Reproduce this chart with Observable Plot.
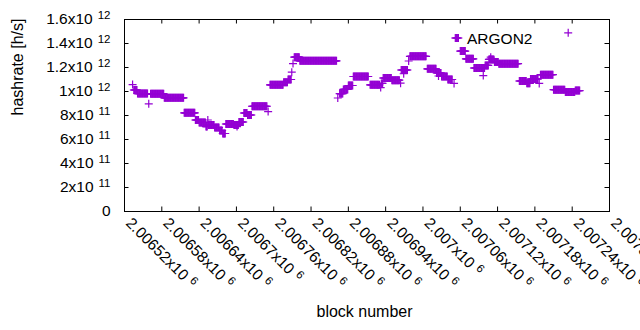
<!DOCTYPE html>
<html><head><meta charset="utf-8">
<script src="https://cdn.jsdelivr.net/npm/d3@7"></script>
<script src="https://cdn.jsdelivr.net/npm/@observablehq/plot@0.6"></script>
<style>
html,body{margin:0;padding:0;background:#fff;}
</style>
</head><body><div id="chart"></div>
<script>
// Plateaus of constant hashrate (block ranges), values in units of 10^12 h/s
const runStart = [2006535,2006541,2006562,2006584,2006616,2006634,2006640,2006651,2006655,2006665,2006673,2006678,2006683,2006696,2006704,2006712,2006718,2006725,2006754,2006776,2006783,2006793,2006802,2006866,2006872,2006880,2006888,2006915,2006933,2006936,2006950,2006965,2006979,2007007,2007022,2007030,2007040,2007052,2007060,2007069,2007082,2007100,2007106,2007115,2007122,2007155,2007167,2007173,2007189,2007210,2007229,2007245];
const runEnd   = [2006540,2006557,2006583,2006615,2006633,2006639,2006650,2006653,2006664,2006672,2006677,2006682,2006695,2006703,2006711,2006717,2006724,2006749,2006775,2006782,2006788,2006801,2006861,2006871,2006879,2006887,2006912,2006930,2006935,2006949,2006962,2006975,2007005,2007021,2007029,2007039,2007047,2007057,2007068,2007081,2007099,2007105,2007114,2007121,2007153,2007166,2007172,2007185,2007209,2007228,2007244,2007252];
const runValue = [1.0125,0.983,0.981,0.9475,0.822,0.7625,0.742,0.708,0.721,0.700,0.675,0.650,0.729,0.721,0.746,0.821,0.804,0.877,1.056,1.0775,1.100,1.286,1.256,0.983,1.017,1.050,1.125,1.056,1.067,1.1125,1.094,1.179,1.293,1.189,1.154,1.125,1.100,1.446,1.337,1.2725,1.196,1.217,1.267,1.246,1.232,1.0875,1.068,1.104,1.140,1.015,0.996,1.008];
// Isolated blocks
const singleBlock = [2006533,2006559,2006654,2006701,2006751,2006789,2006791,2006863,2006932,2006964,2006969,2006977,2007025,2007050,2007097,2007109,2007187];
const singleValue = [1.058,0.8975,0.7625,0.708,0.833,1.161,1.233,0.946,1.033,1.069,1.148,1.254,1.129,1.067,1.133,1.286,1.067];
const xTicks = [2006520,2006580,2006640,2006700,2006760,2006820,2006880,2006940,2007000,2007060,2007120,2007180,2007240,2007300];
const yTicks = [0,2e11,4e11,6e11,8e11,1e12,1.2e12,1.4e12,1.6e12];
const seriesName = "ARGON2";
const xLabel = "block number";
const yLabel = "hashrate [h/s]";

const points = [];
runStart.forEach((s, i) => { for (let b = s; b <= runEnd[i]; b++) points.push({block: b, hashrate: runValue[i] * 1e12}); });
singleBlock.forEach((b, i) => points.push({block: b, hashrate: singleValue[i] * 1e12}));

const plus = { draw(ctx, size) { const h = Math.sqrt(size / Math.PI); ctx.moveTo(-h, 0); ctx.lineTo(h, 0); ctx.moveTo(0, -h); ctx.lineTo(0, h); } };

function fmtX(t) { return String(+(t / 1e6).toFixed(6)) + "x10^6"; }
function fmtY(v) {
  if (v === 0) return "0";
  const e = Math.floor(Math.log10(v) + 1e-9);
  const m = +(v / Math.pow(10, e)).toFixed(3);
  return m + "x10^" + e;
}
const color = "#9400d3";

const chart = Plot.plot({
  width: 640, height: 330,
  marginLeft: 124, marginRight: 31, marginTop: 19, marginBottom: 119,
  style: {fontFamily: "'Liberation Sans', Arial, sans-serif", fontSize: "15px", color: "#000", background: "#fff"},
  x: {domain: [2006520, 2007300], axis: null},
  y: {domain: [0, 1.6e12], axis: null},
  marks: [
    Plot.dot(points, {x: "block", y: "hashrate", r: 4, symbol: plus, fill: "none", stroke: color, strokeWidth: 1.2}),
    Plot.tickX(xTicks, {x: d => d, insetTop: 187.5, stroke: "black"}),
    Plot.tickX(xTicks, {x: d => d, insetBottom: 187.5, stroke: "black"}),
    Plot.tickY(yTicks, {y: d => d, insetRight: 480.5, stroke: "black"}),
    Plot.tickY(yTicks, {y: d => d, insetLeft: 480.5, stroke: "black"}),
    Plot.frame({stroke: "black"}),
    Plot.text(xTicks, {x: d => d, frameAnchor: "bottom", text: fmtX, rotate: 45, textAnchor: "start", lineAnchor: "middle", dx: 4, dy: 9, fontSize: 15.5}),
    Plot.text(yTicks, {y: d => d, frameAnchor: "left", text: fmtY, textAnchor: "end", dx: -14, fontSize: 15.5}),
    Plot.text([yLabel], {frameAnchor: "left", rotate: -90, dx: -107, fontSize: 16}),
    Plot.text([xLabel], {frameAnchor: "bottom", dy: 105, dx: -2.5, fontSize: 16}),
    Plot.text([seriesName], {frameAnchor: "top-right", textAnchor: "end", dx: -77, dy: 13, fontSize: 15.5}),
    Plot.dot([seriesName], {frameAnchor: "top-right", dx: -41.3, dy: 13.3, r: 4, symbol: plus, fill: "none", stroke: color, strokeWidth: 1.2})
  ]
});

chart.querySelectorAll("text").forEach(t => {
  const s = t.textContent;
  const i = s.indexOf("^");
  if (i < 0) return;
  t.textContent = s.slice(0, i);
  const ts = document.createElementNS("http://www.w3.org/2000/svg", "tspan");
  ts.setAttribute("dx", "5");
  ts.setAttribute("dy", "-5");
  ts.setAttribute("font-size", "11.5");
  ts.textContent = s.slice(i + 1);
  t.appendChild(ts);
});
document.getElementById("chart").appendChild(chart);
</script>
</body></html>
